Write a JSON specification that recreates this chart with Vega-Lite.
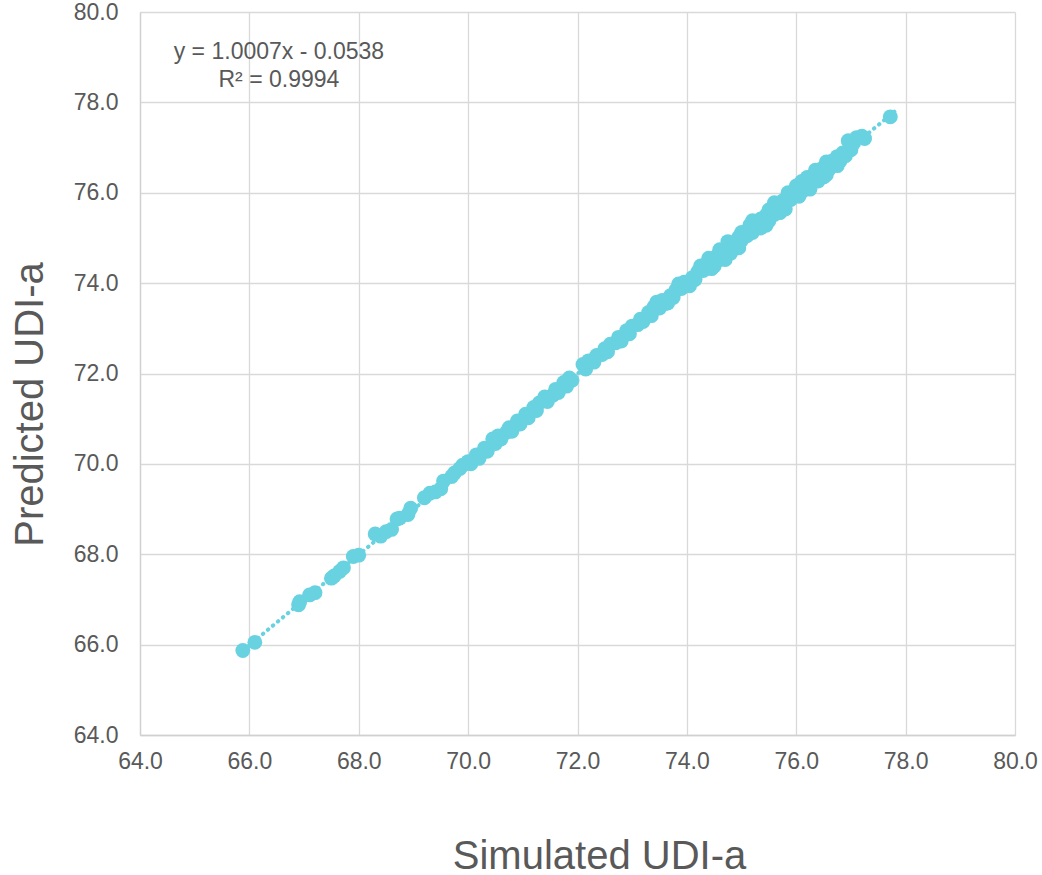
{
  "$schema": "https://vega.github.io/schema/vega-lite/v6.json",
  "autosize": "none",
  "width": 875,
  "height": 723,
  "padding": {"left": 140, "top": 12, "right": 27, "bottom": 140},
  "background": "white",
  "config": {
    "view": {"stroke": null},
    "font": "Liberation Sans",
    "axis": {
      "labelFont": "Liberation Sans",
      "titleFont": "Liberation Sans",
      "labelColor": "#595959",
      "titleColor": "#595959",
      "labelFontSize": 23,
      "titleFontSize": 40,
      "titleFontWeight": "normal",
      "gridColor": "#D9D9D9",
      "gridWidth": 1.3,
      "domainColor": "#D0D0D0",
      "domainWidth": 1.3,
      "ticks": false,
      "tickSize": 0,
      "labelFlush": false
    }
  },
  "datasets": {
    "pts": [
      {"sim": 65.88, "pred": 65.87}, {"sim": 66.1, "pred": 66.05},
      {"sim": 66.9, "pred": 66.88}, {"sim": 66.92, "pred": 66.95},
      {"sim": 67.1, "pred": 67.1}, {"sim": 67.2, "pred": 67.15},
      {"sim": 67.5, "pred": 67.47}, {"sim": 67.55, "pred": 67.52},
      {"sim": 67.65, "pred": 67.62}, {"sim": 67.72, "pred": 67.7},
      {"sim": 67.9, "pred": 67.95}, {"sim": 68.0, "pred": 67.98},
      {"sim": 68.3, "pred": 68.45}, {"sim": 68.4, "pred": 68.4},
      {"sim": 68.5, "pred": 68.5}, {"sim": 68.6, "pred": 68.55},
      {"sim": 68.7, "pred": 68.78}, {"sim": 68.75, "pred": 68.8},
      {"sim": 68.9, "pred": 68.88}, {"sim": 68.95, "pred": 69.02},
      {"sim": 69.2, "pred": 69.25}, {"sim": 69.3, "pred": 69.35},
      {"sim": 69.4, "pred": 69.38}, {"sim": 69.5, "pred": 69.45},
      {"sim": 69.55, "pred": 69.62}, {"sim": 69.7, "pred": 69.72},
      {"sim": 69.75, "pred": 69.8}, {"sim": 69.85, "pred": 69.9},
      {"sim": 69.9, "pred": 69.97}, {"sim": 70.0, "pred": 70.05},
      {"sim": 70.05, "pred": 70.0}, {"sim": 70.15, "pred": 70.2},
      {"sim": 70.2, "pred": 70.12}, {"sim": 70.3, "pred": 70.35},
      {"sim": 70.35, "pred": 70.28}, {"sim": 70.45, "pred": 70.55},
      {"sim": 70.5, "pred": 70.45}, {"sim": 70.55, "pred": 70.62},
      {"sim": 70.6, "pred": 70.55}, {"sim": 70.7, "pred": 70.7},
      {"sim": 70.75, "pred": 70.8}, {"sim": 70.8, "pred": 70.72},
      {"sim": 70.9, "pred": 70.95}, {"sim": 70.95, "pred": 70.88},
      {"sim": 71.05, "pred": 71.1}, {"sim": 71.1, "pred": 71.02},
      {"sim": 71.2, "pred": 71.25}, {"sim": 71.25, "pred": 71.18},
      {"sim": 71.3, "pred": 71.35}, {"sim": 71.4, "pred": 71.48},
      {"sim": 71.45, "pred": 71.38}, {"sim": 71.55, "pred": 71.52},
      {"sim": 71.6, "pred": 71.65}, {"sim": 71.65, "pred": 71.58},
      {"sim": 71.75, "pred": 71.8}, {"sim": 71.8, "pred": 71.72},
      {"sim": 71.85, "pred": 71.9}, {"sim": 71.9, "pred": 71.85},
      {"sim": 72.1, "pred": 72.2}, {"sim": 72.15, "pred": 72.1},
      {"sim": 72.2, "pred": 72.28}, {"sim": 72.3, "pred": 72.25},
      {"sim": 72.35, "pred": 72.4}, {"sim": 72.45, "pred": 72.42},
      {"sim": 72.5, "pred": 72.55}, {"sim": 72.55, "pred": 72.48},
      {"sim": 72.6, "pred": 72.65}, {"sim": 72.7, "pred": 72.68},
      {"sim": 72.75, "pred": 72.8}, {"sim": 72.8, "pred": 72.72},
      {"sim": 72.9, "pred": 72.95}, {"sim": 72.95, "pred": 72.88},
      {"sim": 73.0, "pred": 73.05}, {"sim": 73.1, "pred": 73.08},
      {"sim": 73.15, "pred": 73.2}, {"sim": 73.2, "pred": 73.15},
      {"sim": 73.3, "pred": 73.35}, {"sim": 73.35, "pred": 73.28},
      {"sim": 73.4, "pred": 73.48}, {"sim": 73.5, "pred": 73.45},
      {"sim": 73.45, "pred": 73.58}, {"sim": 73.65, "pred": 73.56},
      {"sim": 73.55, "pred": 73.62}, {"sim": 73.6, "pred": 73.55},
      {"sim": 73.7, "pred": 73.72}, {"sim": 73.75, "pred": 73.68},
      {"sim": 73.8, "pred": 73.85}, {"sim": 73.9, "pred": 73.88},
      {"sim": 73.85, "pred": 73.98}, {"sim": 74.05, "pred": 73.94},
      {"sim": 73.95, "pred": 74.02}, {"sim": 74.0, "pred": 73.95},
      {"sim": 74.1, "pred": 74.12}, {"sim": 74.15, "pred": 74.08},
      {"sim": 74.2, "pred": 74.25}, {"sim": 74.3, "pred": 74.28},
      {"sim": 74.25, "pred": 74.38}, {"sim": 74.45, "pred": 74.32},
      {"sim": 74.35, "pred": 74.42}, {"sim": 74.4, "pred": 74.35},
      {"sim": 74.45, "pred": 74.5}, {"sim": 74.5, "pred": 74.45},
      {"sim": 74.5, "pred": 74.38}, {"sim": 74.55, "pred": 74.6},
      {"sim": 74.4, "pred": 74.55}, {"sim": 74.7, "pred": 74.52},
      {"sim": 74.6, "pred": 74.52}, {"sim": 74.65, "pred": 74.7},
      {"sim": 74.6, "pred": 74.74}, {"sim": 74.8, "pred": 74.66},
      {"sim": 74.7, "pred": 74.65}, {"sim": 74.75, "pred": 74.8},
      {"sim": 74.8, "pred": 74.72}, {"sim": 74.85, "pred": 74.9},
      {"sim": 74.75, "pred": 74.92}, {"sim": 74.95, "pred": 74.78},
      {"sim": 74.9, "pred": 74.85}, {"sim": 74.95, "pred": 75.02},
      {"sim": 75.0, "pred": 74.95}, {"sim": 75.0, "pred": 75.12},
      {"sim": 75.05, "pred": 75.1}, {"sim": 75.1, "pred": 75.05},
      {"sim": 75.15, "pred": 75.2}, {"sim": 75.2, "pred": 75.12},
      {"sim": 75.15, "pred": 75.28}, {"sim": 75.35, "pred": 75.22},
      {"sim": 75.25, "pred": 75.3}, {"sim": 75.3, "pred": 75.25},
      {"sim": 75.2, "pred": 75.38}, {"sim": 75.45, "pred": 75.28},
      {"sim": 75.35, "pred": 75.42}, {"sim": 75.4, "pred": 75.35},
      {"sim": 75.45, "pred": 75.5}, {"sim": 75.5, "pred": 75.45},
      {"sim": 75.5, "pred": 75.38}, {"sim": 75.55, "pred": 75.6},
      {"sim": 75.5, "pred": 75.62}, {"sim": 75.7, "pred": 75.56},
      {"sim": 75.6, "pred": 75.52}, {"sim": 75.65, "pred": 75.7},
      {"sim": 75.6, "pred": 75.78}, {"sim": 75.8, "pred": 75.64},
      {"sim": 75.7, "pred": 75.65}, {"sim": 75.75, "pred": 75.82},
      {"sim": 75.8, "pred": 75.75}, {"sim": 75.85, "pred": 75.9},
      {"sim": 75.9, "pred": 75.85}, {"sim": 75.95, "pred": 76.02},
      {"sim": 75.85, "pred": 76.0}, {"sim": 76.05, "pred": 75.92},
      {"sim": 76.0, "pred": 75.95}, {"sim": 76.0, "pred": 76.15},
      {"sim": 76.05, "pred": 76.1}, {"sim": 76.1, "pred": 76.02},
      {"sim": 76.1, "pred": 76.25}, {"sim": 76.25, "pred": 76.08},
      {"sim": 76.15, "pred": 76.2}, {"sim": 76.2, "pred": 76.12},
      {"sim": 76.2, "pred": 76.34}, {"sim": 76.4, "pred": 76.26},
      {"sim": 76.25, "pred": 76.3}, {"sim": 76.3, "pred": 76.22},
      {"sim": 76.35, "pred": 76.4}, {"sim": 76.4, "pred": 76.32},
      {"sim": 76.35, "pred": 76.5}, {"sim": 76.55, "pred": 76.4},
      {"sim": 76.45, "pred": 76.52}, {"sim": 76.5, "pred": 76.42},
      {"sim": 76.5, "pred": 76.35}, {"sim": 76.55, "pred": 76.6},
      {"sim": 76.55, "pred": 76.68}, {"sim": 76.75, "pred": 76.6},
      {"sim": 76.6, "pred": 76.52}, {"sim": 76.65, "pred": 76.7},
      {"sim": 76.7, "pred": 76.62}, {"sim": 76.75, "pred": 76.8},
      {"sim": 76.8, "pred": 76.7}, {"sim": 76.85, "pred": 76.88},
      {"sim": 76.9, "pred": 76.82}, {"sim": 76.95, "pred": 77.15},
      {"sim": 77.0, "pred": 76.95}, {"sim": 77.05, "pred": 77.1},
      {"sim": 77.1, "pred": 77.22}, {"sim": 77.2, "pred": 77.25},
      {"sim": 77.25, "pred": 77.2}, {"sim": 77.72, "pred": 77.68}
    ],
    "trend": [
      {"sim": 65.88, "pred": 65.87},
      {"sim": 77.85, "pred": 77.85}
    ],
    "note": [
      {"label": "y = 1.0007x - 0.0538\nR² = 0.9994"}
    ]
  },
  "layer": [
    {
      "data": {"name": "pts"},
      "mark": {"type": "circle", "size": 220, "color": "#68D2E0", "opacity": 1},
      "encoding": {
        "x": {
          "field": "sim", "type": "quantitative",
          "scale": {"domain": [64, 80], "nice": false, "zero": false},
          "axis": {
            "values": [64, 66, 68, 70, 72, 74, 76, 78, 80],
            "format": ".1f",
            "title": "Simulated UDI-a",
            "labelBaseline": "top",
            "labelPadding": 15,
            "titleX": 459,
            "titleY": 133,
            "titleBaseline": "alphabetic",
            "titleAlign": "center",
            "titleAnchor": null
          }
        },
        "y": {
          "field": "pred", "type": "quantitative",
          "scale": {"domain": [64, 80], "nice": false, "zero": false},
          "axis": {
            "values": [64, 66, 68, 70, 72, 74, 76, 78, 80],
            "format": ".1f",
            "title": "Predicted UDI-a",
            "labelPadding": 22,
            "titleX": -98,
            "titleY": 392,
            "titleAngle": 270,
            "titleBaseline": "alphabetic",
            "titleAlign": "center"
          }
        }
      }
    },
    {
      "data": {"name": "trend"},
      "mark": {"type": "line", "color": "#68D2E0", "strokeWidth": 4, "strokeDash": [0.5, 6], "strokeCap": "round"},
      "encoding": {
        "x": {"field": "sim", "type": "quantitative"},
        "y": {"field": "pred", "type": "quantitative"}
      }
    },
    {
      "data": {"name": "note"},
      "mark": {"type": "text", "font": "Liberation Sans", "fontSize": 23, "color": "#595959", "align": "center", "baseline": "alphabetic", "lineBreak": "\n", "lineHeight": 28},
      "encoding": {
        "x": {"datum": 66.54, "type": "quantitative"},
        "y": {"datum": 78.96, "type": "quantitative"},
        "text": {"field": "label", "type": "nominal"}
      }
    }
  ]
}
